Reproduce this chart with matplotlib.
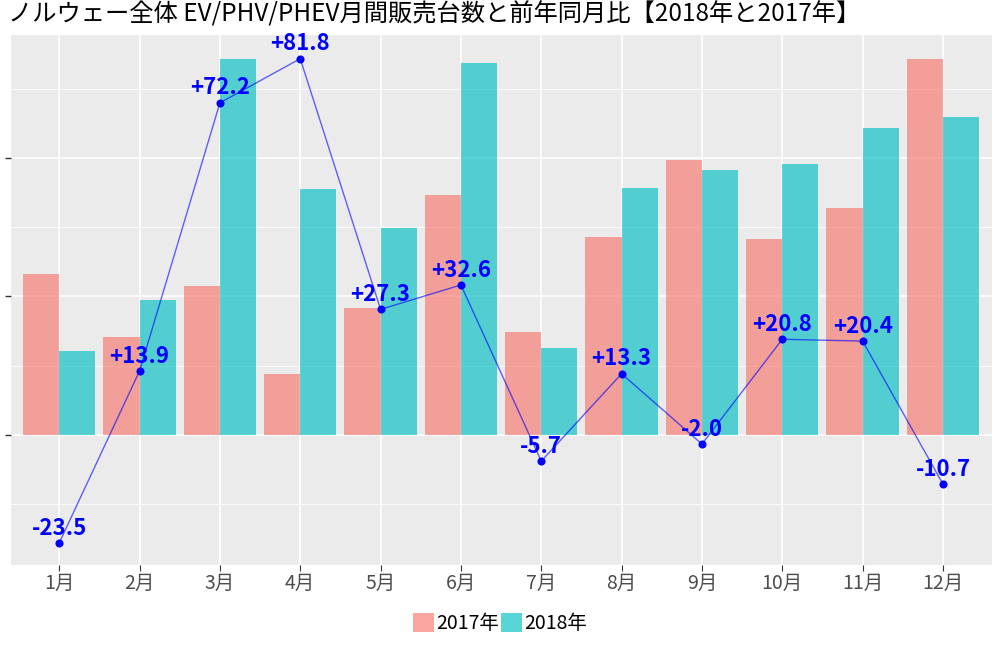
import matplotlib
matplotlib.use('Agg')
import matplotlib.pyplot as plt
import numpy as np
from matplotlib.patches import Patch

plt.rcParams['font.family'] = ['Noto Sans CJK JP', 'DejaVu Sans']

months = ["1月", "2月", "3月", "4月", "5月", "6月", "7月", "8月", "9月", "10月", "11月", "12月"]
sales_2017 = [2325, 1415, 2152, 881, 1834, 3466, 1487, 2859, 3971, 2830, 3278, 5430]
sales_2018 = [1213, 1949, 5430, 3552, 2989, 5372, 1256, 3567, 3827, 3913, 4433, 4592]
yoy_pct = [-23.5, 13.9, 72.2, 81.8, 27.3, 32.6, -5.7, 13.3, -2.0, 20.8, 20.4, -10.7]
yoy_labels = ["-23.5", "+13.9", "+72.2", "+81.8", "+27.3", "+32.6", "-5.7", "+13.3", "-2.0", "+20.8", "+20.4", "-10.7"]

fig = plt.figure(figsize=(10, 6.5), dpi=100)
ax = fig.add_axes([0.011, 0.131, 0.981, 0.815])
ax.set_facecolor("#EBEBEB")

x = np.arange(1, len(months) + 1)
w = 0.45
ax.bar(x - w / 2, sales_2017, width=w, color="#F8766D", alpha=0.65, zorder=2, linewidth=0)
ax.bar(x + w / 2, sales_2018, width=w, color="#00BFC4", alpha=0.65, zorder=2, linewidth=0)

ax.set_xlim(0.4, 12.61)
ax.set_ylim(-1877, 5776)
ax.set_xticks(x)
ax.set_xticklabels(months, fontsize=14, color="#4D4D4D")
ax.set_yticks([0, 2000, 4000])
ax.set_yticks([-1000, 1000, 3000, 5000], minor=True)
ax.set_yticklabels([])
ax.grid(which="major", color="white", linewidth=1.2, zorder=0)
ax.grid(which="minor", axis="y", color="white", linewidth=0.6, zorder=0)
ax.set_axisbelow(True)
ax.tick_params(axis="y", which="major", length=4, color="#333333", width=1)
ax.tick_params(axis="y", which="minor", length=0)
ax.tick_params(axis="x", length=4, color="#333333", pad=2)
for s in ax.spines.values():
    s.set_visible(False)

# percentage line on a twin axis, zero aligned with bar baseline
k = 2000 / 30.1
ax2 = ax.twinx()
lo, hi = ax.get_ylim()
ax2.set_ylim(lo / k, hi / k)
ax2.set_yticks([])
for s in ax2.spines.values():
    s.set_visible(False)
for xi, v, lab in zip(x, yoy_pct, yoy_labels):
    ax2.annotate(lab, (xi, v), xytext=(0, 2.5), textcoords="offset points",
                 ha="center", va="bottom", color="blue", fontsize=16,
                 fontweight="bold", zorder=3)
ax2.plot(x, yoy_pct, color="blue", alpha=0.6, linewidth=1.0, zorder=4)
ax2.scatter(x, yoy_pct, color="blue", s=34, zorder=5, linewidths=0)

fig.text(0.008, 0.977, "ノルウェー全体 EV/PHV/PHEV月間販売台数と前年同月比【2018年と2017年】",
         fontsize=17.5, ha="left", va="center", color="black")

handles = [Patch(facecolor="#F8766D", alpha=0.65, label="2017年"),
           Patch(facecolor="#00BFC4", alpha=0.65, label="2018年")]
fig.legend(handles=handles, loc="center", bbox_to_anchor=(0.5, 0.041), ncol=2,
           frameon=False, fontsize=14, handlelength=1.1, handleheight=1.1,
           handletextpad=0.1, columnspacing=0.1)

fig.savefig("out.png", dpi=100)
